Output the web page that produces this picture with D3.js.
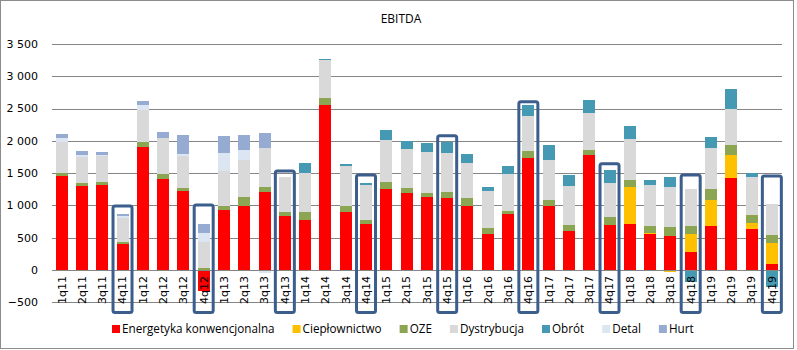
<!DOCTYPE html>
<html>
<head>
<meta charset="utf-8">
<script src="https://cdn.jsdelivr.net/npm/d3@7"></script>
<style>
  body { margin: 0; background: #fff; }
  svg { display: block; }
  text { font-family: "DejaVu Sans", sans-serif; fill: #000; }
</style>
</head>
<body>
<svg id="chart" width="797" height="350"></svg>
<script>
var quarters = ["1q11","2q11","3q11","4q11","1q12","2q12","3q12","4q12","1q13","2q13","3q13","4q13",
                "1q14","2q14","3q14","4q14","1q15","2q15","3q15","4q15","1q16","2q16","3q16","4q16",
                "1q17","2q17","3q17","4q17","1q18","2q18","3q18","4q18","1q19","2q19","3q19","4q19"];

var seriesNames = ["Energetyka konwencjonalna", "Ciepłownictwo", "OZE", "Dystrybucja", "Obrót", "Detal", "Hurt"];
var seriesColors = ["#ff0000", "#ffc000", "#8ca552", "#d9d9d9", "#4599b2", "#dce6f2", "#95abd2"];

var energetyka = [1455,1300,1310,400,1905,1405,1220,-320,925,990,1205,835,
                  780,2550,905,720,1250,1185,1125,1110,990,565,875,1730,
                  990,610,1775,690,705,550,520,285,675,1420,640,100];
var cieplownictwo = [0,0,0,0,0,0,0,0,0,0,0,0,
                     0,0,0,0,0,0,0,0,0,0,0,0,
                     0,0,0,0,575,30,-35,280,405,355,95,325];
var oze = [55,45,60,40,70,75,45,35,65,135,75,70,
           125,110,90,60,120,80,60,105,120,80,45,110,
           90,80,80,125,110,95,140,110,170,155,110,110];
var dystrybucja = [470,405,395,370,510,560,495,405,550,580,605,530,
                   590,590,610,530,640,605,640,590,540,575,560,545,
                   620,605,575,530,635,635,620,575,635,560,590,495];
var obrot = [0,0,0,0,0,0,0,0,0,0,0,0,
             155,16,30,45,155,125,140,185,140,60,125,170,
             235,170,200,200,200,80,155,-190,170,310,60,-260];
var detal = [60,25,15,25,65,0,30,140,265,150,-45,0,
             0,0,0,0,0,0,0,0,0,0,0,0,
             0,0,0,0,0,0,0,0,0,0,0,0];
var hurt = [60,65,45,25,75,95,295,125,265,235,235,0,
            0,0,0,0,0,0,0,0,0,0,0,0,
            0,0,0,0,0,0,0,0,0,0,0,0];

var yTicks = [-500, 0, 500, 1000, 1500, 2000, 2500, 3000, 3500];

// fourth quarters framed on the original, with the top of each frame
var boxedQuarters = ["4q11","4q12","4q13","4q14","4q15","4q16","4q17","4q18","4q19"];
var boxTops = [990, 1005, 1535, 1470, 2080, 2605, 1645, 1470, 1455];

var svg = d3.select("#chart");
var margin = {top: 44, right: 15, bottom: 48, left: 51.5};

svg.append("rect")
    .attr("x", 0.5).attr("y", 0.5)
    .attr("width", 793).attr("height", 348)
    .attr("fill", "#fff")
    .attr("stroke", "#8c8c8c");

svg.append("text")
    .attr("x", 401).attr("y", 23)
    .attr("text-anchor", "middle")
    .style("font-family", "'Open Sans', sans-serif")
    .style("font-size", "12px")
    .text("EBITDA");

var x = d3.scaleBand()
    .domain(quarters)
    .range([margin.left, 782])
    .paddingInner(0.41)
    .paddingOuter(0.205);

var y = d3.scaleLinear()
    .domain([-500, 3500])
    .range([302.3, 44]);

// table for the stack
var table = quarters.map(function(q, i) {
  return {
    quarter: q,
    "Energetyka konwencjonalna": energetyka[i],
    "Ciepłownictwo": cieplownictwo[i],
    "OZE": oze[i],
    "Dystrybucja": dystrybucja[i],
    "Obrót": obrot[i],
    "Detal": detal[i],
    "Hurt": hurt[i]
  };
});

var stack = d3.stack()
    .keys(seriesNames)
    .offset(d3.stackOffsetDiverging);
var layers = stack(table);

var color = d3.scaleOrdinal().domain(seriesNames).range(seriesColors);

// gridlines
svg.append("g")
    .attr("class", "grid")
    .attr("transform", "translate(" + margin.left + ",0)")
    .call(d3.axisLeft(y).tickValues(yTicks).tickSize(-(782 - margin.left)).tickFormat(""))
    .call(function(g) { g.select(".domain").remove(); })
    .call(function(g) { g.selectAll("line").attr("stroke", "#868686").attr("shape-rendering", "crispEdges"); });

// y labels
svg.append("g")
    .attr("transform", "translate(38,0)")
    .selectAll("text")
    .data(yTicks)
    .enter().append("text")
      .attr("x", 0)
      .attr("y", function(d) { return y(d); })
      .attr("dy", "0.35em")
      .attr("text-anchor", "end")
      .style("font-size", "11px")
      .text(function(d) { return d3.format(",")(d).replace(",", " "); });

// bars
svg.append("g")
  .selectAll("g")
  .data(layers)
  .enter().append("g")
    .attr("fill", function(d) { return color(d.key); })
  .selectAll("rect")
  .data(function(d) { return d; })
  .enter().append("rect")
    .attr("x", function(d) { return x(d.data.quarter); })
    .attr("y", function(d) { return y(d[1]); })
    .attr("height", function(d) { return Math.max(0, y(d[0]) - y(d[1])); })
    .attr("width", x.bandwidth())
    .attr("shape-rendering", "crispEdges");

// x axis line at zero
svg.append("line")
    .attr("x1", margin.left).attr("x2", 782)
    .attr("y1", y(0)).attr("y2", y(0))
    .attr("stroke", "#868686")
    .attr("shape-rendering", "crispEdges");

// x labels, rotated
svg.append("g")
  .selectAll("text")
  .data(quarters)
  .enter().append("text")
    .attr("transform", function(d) {
      return "translate(" + (x(d) + x.bandwidth() / 2) + ",276) rotate(-90)";
    })
    .attr("dy", "0.35em")
    .attr("text-anchor", "end")
    .style("font-size", "11px")
    .text(function(d) { return d; });

// frames round the fourth quarters
svg.append("g")
  .selectAll("rect")
  .data(boxedQuarters)
  .enter().append("rect")
    .attr("x", function(d) { return x(d) + x.bandwidth() / 2 - 9.5; })
    .attr("y", function(d, i) { return y(boxTops[i]); })
    .attr("width", 19)
    .attr("height", function(d, i) { return 312.5 - y(boxTops[i]); })
    .attr("rx", 2)
    .attr("fill", "none")
    .attr("stroke", "#3b5e8c")
    .attr("stroke-width", 3);

// legend
var legend = svg.append("g").attr("transform", "translate(112,329)");
var lx = 0;
seriesNames.forEach(function(name, i) {
  var item = legend.append("g").attr("transform", "translate(" + lx + ",0)");
  item.append("rect")
      .attr("x", 0).attr("y", -4)
      .attr("width", 8).attr("height", 8)
      .attr("fill", seriesColors[i]);
  var t = item.append("text")
      .attr("x", 10)
      .attr("y", 0)
      .attr("dy", "0.35em")
      .style("font-family", "'Open Sans', sans-serif")
      .style("font-size", "11.7px")
      .text(name);
  lx += 10 + t.node().getComputedTextLength() + 18;
});
</script>
</body>
</html>
